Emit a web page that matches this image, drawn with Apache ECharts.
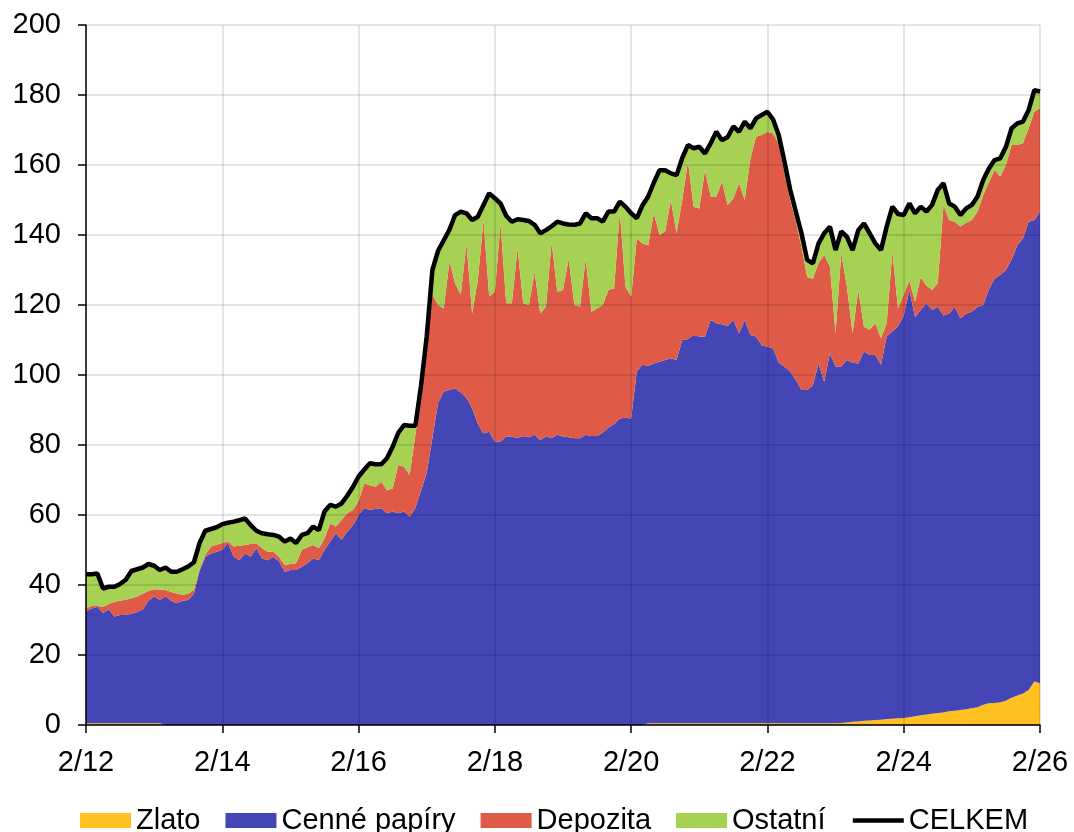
<!DOCTYPE html>
<html>
<head>
<meta charset="utf-8">
<script src="https://cdn.jsdelivr.net/npm/echarts@6/dist/echarts.min.js"></script>
<style>
  html, body { margin: 0; padding: 0; background: #fff; }
  #chart { width: 1074px; height: 832px; }
</style>
</head>
<body>
<div id="chart"></div>
<script>
// měsíce 2/12 .. 2/26
const mesice = []
for (let r = 12; r <= 26; r++) {
  for (let m = 1; m <= 12; m++) {
    if (r === 12 && m < 2) continue
    if (r === 26 && m > 2) break
    mesice.push(m + '/' + r)
  }
}

// mld., řádek = rok od února
const zlato = [
  0.5, 0.5, 0.5, 0.5, 0.5, 0.5, 0.5, 0.5, 0.5, 0.5, 0.5, 0.5,
  0.5, 0.5, 0, 0, 0, 0, 0, 0, 0, 0, 0, 0,
  0, 0, 0, 0, 0, 0, 0, 0, 0, 0, 0, 0,
  0, 0, 0, 0, 0, 0, 0, 0, 0, 0, 0, 0,
  0, 0, 0, 0, 0, 0, 0, 0, 0, 0, 0, 0,
  0, 0, 0, 0, 0, 0, 0, 0, 0, 0, 0, 0,
  0, 0, 0, 0, 0, 0, 0, 0, 0, 0, 0, 0,
  0, 0, 0, 0, 0, 0, 0, 0, 0, 0, 0, 0,
  0, 0, 0, 0.5, 0.5, 0.5, 0.5, 0.5, 0.5, 0.5, 0.5, 0.5,
  0.5, 0.5, 0.5, 0.5, 0.5, 0.5, 0.5, 0.5, 0.5, 0.5, 0.5, 0.5,
  0.5, 0.5, 0.5, 0.5, 0.5, 0.5, 0.5, 0.5, 0.5, 0.5, 0.5, 0.5,
  0.5, 0.6, 0.7, 0.9, 1.0, 1.2, 1.3, 1.4, 1.5, 1.7, 1.8, 1.9,
  2.0, 2.2, 2.5, 2.8, 3.0, 3.2, 3.4, 3.6, 3.9, 4.1, 4.3, 4.5,
  4.8, 5.1, 5.8, 6.2, 6.3, 6.5, 6.9, 7.8, 8.4, 9.0, 10.0, 12.4,
  11.9
]
const cennePapiry = [
  31.9, 32.8, 33.3, 31.5, 32.5, 30.5, 30.9, 30.9, 31.3, 31.8, 32.5, 35.0,
  36.2, 35.2, 36.7, 35.5, 34.8, 35.5, 35.7, 37.5, 44.0, 48.0, 49.0, 49.5,
  50.0, 52.0, 48.1, 47.1, 49.0, 48.1, 50.5, 47.6, 47.1, 48.1, 46.7, 43.8,
  44.3, 44.3, 45.2, 46.2, 47.6, 47.1, 50.0, 52.4, 54.8, 52.9, 55.2, 57.0,
  60.0, 62.0, 61.4, 61.8, 61.9, 60.5, 61.0, 60.5, 61.0, 59.5, 62.0, 67.0,
  72.0, 82.0, 92.0, 95.3, 95.7, 96.2, 95.0, 93.5, 90.5, 86.0, 83.3, 83.8,
  81.0, 81.0, 82.4, 82.4, 82.0, 82.6, 82.2, 82.9, 81.4, 82.4, 81.9, 82.9,
  82.4, 82.2, 81.9, 81.9, 82.9, 82.6, 82.6, 83.5, 85.0, 86.0, 87.6, 87.8,
  87.6, 101.0, 102.9, 102.1, 102.8, 103.3, 103.8, 104.3, 103.8, 109.5, 109.7, 110.9,
  110.5, 110.4, 115.2, 114.3, 114.0, 113.5, 115.2, 111.4, 115.2, 110.9, 110.5, 108.0,
  107.6, 107.1, 103.0, 101.9, 100.5, 98.1, 95.2, 95.2, 96.5, 102.8, 97.6, 105.7,
  101.9, 101.8, 103.6, 102.6, 102.3, 105.5, 104.4, 104.3, 101.4, 109.3, 110.6, 112.1,
  115.0, 122.1, 114.0, 115.8, 117.5, 115.4, 116.1, 113.4, 113.7, 115.4, 111.9, 113.0,
  113.3, 114.4, 114.2, 118.3, 121.2, 122.1, 123.1, 125.2, 128.6, 130.0, 133.8, 131.9,
  134.8
]
const depozita = [
  0.9, 0.7, 0.2, 1.8, 1.5, 4.2, 4.1, 4.4, 4.4, 4.4, 4.5, 2.8,
  2.1, 3.0, 1.9, 2.5, 2.8, 1.7, 1.8, 1.1, 0.5, 0.6, 2.0, 2.0,
  2.0, 0.4, 2.9, 4.1, 2.4, 3.6, 1.4, 2.9, 2.4, 1.4, 1.4, 1.9,
  1.7, 1.9, 4.8, 4.6, 3.8, 3.4, 3.3, 5.2, 1.9, 5.7, 5.3, 4.4,
  4.0, 7.0, 7.1, 6.3, 7.6, 6.6, 6.6, 13.8, 12.8, 11.9, 21.0, 27.0,
  36.0, 40.9, 28.0, 23.7, 36.7, 30.0, 27.9, 44.1, 27.1, 41.1, 61.0, 38.6,
  42.8, 62.3, 38.1, 38.1, 54.2, 37.9, 37.8, 46.6, 36.2, 37.1, 56.2, 40.9,
  41.9, 51.1, 38.1, 37.6, 50.4, 35.5, 36.4, 36.5, 39.3, 38.8, 59.1, 37.4,
  34.8, 38.0, 34.7, 34.5, 42.9, 36.2, 36.7, 45.2, 36.2, 40.0, 50.8, 36.7,
  36.6, 47.7, 35.3, 36.2, 40.7, 34.6, 34.8, 42.9, 34.3, 50.5, 57.1, 60.1,
  61.4, 61.4, 62.5, 55.6, 49.0, 45.4, 40.8, 32.3, 30.5, 28.7, 36.2, 24.8,
  9.5, 32.4, 20.9, 8.4, 21.0, 7.1, 7.2, 9.1, 7.6, 3.8, 22.8, 5.0,
  6.0, 2.7, 4.5, 9.4, 5.0, 5.7, 6.7, 31.5, 26.7, 24.3, 26.2, 26.0,
  26.2, 27.2, 31.4, 30.5, 31.1, 28.1, 30.0, 32.7, 28.7, 27.2, 26.7, 30.9,
  29.5
]
const ostatni = [
  9.8, 9.1, 9.3, 5.2, 5.0, 4.3, 4.8, 5.7, 7.8, 7.8, 7.5, 7.7,
  6.7, 5.6, 6.4, 5.8, 6.2, 7.3, 7.8, 7.9, 7.5, 6.9, 5.0, 5.0,
  5.4, 5.4, 7.1, 7.3, 7.6, 5.4, 3.6, 4.3, 5.0, 4.8, 5.7, 6.7,
  7.3, 5.8, 4.3, 4.0, 5.3, 5.2, 7.7, 5.3, 5.7, 4.7, 5.0, 6.6,
  7.0, 4.0, 6.3, 6.4, 5.0, 9.1, 11.9, 9.2, 11.9, 14.1, 2.5, 3.0,
  3.0, 7.1, 15.5, 19.5, 9.1, 19.5, 23.8, 8.6, 26.7, 18.1, 4.3, 29.5,
  26.7, 5.7, 25.0, 23.3, 8.3, 23.8, 24.0, 13.4, 22.9, 21.9, 4.4, 20.0,
  19.0, 9.7, 22.9, 23.8, 12.9, 26.7, 25.8, 23.8, 22.4, 21.9, 2.8, 22.9,
  23.8, 5.8, 10.9, 13.9, 8.8, 18.5, 17.5, 7.6, 16.6, 12.0, 4.7, 16.7,
  17.6, 4.7, 15.2, 18.5, 11.9, 19.4, 20.5, 14.7, 22.4, 8.6, 5.2, 5.7,
  5.7, 4.0, 2.5, 3.0, 3.0, 2.7, 4.0, 4.9, 4.4, 5.6, 6.2, 11.4,
  23.8, 6.2, 14.3, 23.8, 17.1, 29.5, 27.6, 22.8, 25.2, 27.6, 12.9, 27.0,
  22.7, 22.0, 25.2, 20.1, 21.2, 24.3, 26.7, 6.3, 4.7, 4.3, 3.3, 4.1,
  4.3, 4.3, 4.3, 4.0, 2.8, 5.2, 5.2, 4.8, 6.2, 6.2, 5.2, 6.2,
  4.8
]
const celkem = [
  43.1, 43.1, 43.3, 39.0, 39.5, 39.5, 40.3, 41.5, 44.0, 44.5, 45.0, 46.0,
  45.5, 44.3, 45.0, 43.8, 43.8, 44.5, 45.3, 46.5, 52.0, 55.5, 56.0, 56.5,
  57.4, 57.8, 58.1, 58.5, 59.0, 57.1, 55.5, 54.8, 54.5, 54.3, 53.8, 52.4,
  53.3, 52.0, 54.3, 54.8, 56.7, 55.7, 61.0, 62.9, 62.4, 63.3, 65.5, 68.0,
  71.0, 73.0, 74.8, 74.5, 74.5, 76.2, 79.5, 83.5, 85.7, 85.5, 85.5, 97.0,
  111.0, 130.0, 135.5, 138.5, 141.5, 145.7, 146.7, 146.2, 144.3, 145.2, 148.6, 151.9,
  150.5, 149.0, 145.5, 143.8, 144.5, 144.3, 144.0, 142.9, 140.5, 141.4, 142.5, 143.8,
  143.3, 143.0, 142.9, 143.3, 146.2, 144.8, 144.8, 143.8, 146.7, 146.7, 149.5, 148.1,
  146.2, 144.8, 148.5, 151.0, 155.0, 158.5, 158.5, 157.6, 157.1, 162.0, 165.7, 164.8,
  165.2, 163.3, 166.2, 169.5, 167.1, 168.0, 171.0, 169.5, 172.4, 170.5, 173.3, 174.3,
  175.2, 173.0, 168.5, 161.0, 153.0, 146.7, 140.5, 132.9, 131.9, 137.6, 140.5, 142.4,
  135.7, 141.0, 139.5, 135.7, 141.4, 143.3, 140.5, 137.6, 135.7, 142.4, 148.1, 146.0,
  145.7, 149.0, 146.2, 148.1, 146.7, 148.6, 152.9, 154.8, 149.0, 148.1, 145.7, 147.6,
  148.6, 151.0, 155.7, 159.0, 161.4, 161.9, 165.2, 170.5, 171.9, 172.4, 175.7, 181.4,
  181.0
]

const FONT = '"Liberation Sans", Arial, sans-serif'
const chart = echarts.init(document.getElementById('chart'))

const vrstva = (name, data, color) => ({
  name,
  type: 'line',
  stack: 'celkem',
  data,
  color,
  symbol: 'none',
  lineStyle: { width: 0 },
  areaStyle: { color, opacity: 1 },
  emphasis: { disabled: true },
  z: 2
})

chart.setOption({
  animation: false,
  grid: { left: 86, right: 34, top: 25, bottom: 107 },
  legend: {
    top: 801,
    left: 75,
    itemWidth: 51,
    itemHeight: 15,
    itemGap: 25,
    textStyle: { fontFamily: FONT, fontSize: 29, color: '#000' },
    data: [
      { name: 'Zlato', icon: 'rect' },
      { name: 'Cenné papíry', icon: 'rect' },
      { name: 'Depozita', icon: 'rect' },
      { name: 'Ostatní', icon: 'rect' },
      { name: 'CELKEM', itemStyle: { opacity: 0 }, lineStyle: { color: '#000', width: 4.5 } }
    ]
  },
  xAxis: {
    type: 'category',
    data: mesice,
    boundaryGap: false,
    z: 5,
    axisLine: { lineStyle: { color: '#000', width: 1.5 } },
    axisTick: { interval: 23, length: 8, lineStyle: { color: '#000', width: 1.5 } },
    axisLabel: { interval: 23, margin: 23, fontFamily: FONT, fontSize: 29, color: '#000' },
    splitLine: { show: true, interval: 23, lineStyle: { color: 'rgba(0,0,0,0.14)', width: 1.5 } }
  },
  yAxis: {
    type: 'value',
    min: 0,
    max: 200,
    interval: 20,
    z: 5,
    axisLine: { show: true, lineStyle: { color: '#000', width: 1.5 } },
    axisTick: { show: true, length: 8, lineStyle: { color: '#000', width: 1.5 } },
    axisLabel: { margin: 25, fontFamily: FONT, fontSize: 29, color: '#000' },
    splitLine: { lineStyle: { color: 'rgba(0,0,0,0.14)', width: 1.5 } }
  },
  series: [
    vrstva('Zlato', zlato, '#ffc020'),
    vrstva('Cenné papíry', cennePapiry, '#4346b4'),
    vrstva('Depozita', depozita, '#e05a48'),
    vrstva('Ostatní', ostatni, '#a6d152'),
    {
      name: 'CELKEM',
      type: 'line',
      data: celkem,
      color: '#000',
      symbol: 'none',
      lineStyle: { color: '#000', width: 4.5 },
      emphasis: { disabled: true },
      z: 6
    }
  ]
})
</script>
</body>
</html>
